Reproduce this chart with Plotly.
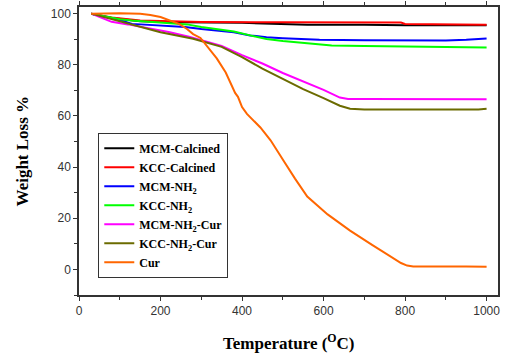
import plotly.graph_objects as go

# Temperature (°C) / weight (%) pairs
mcm_cal_T = [30, 80, 150, 250, 400, 560, 700, 800, 1000]
mcm_cal_W = [100, 98.3, 97.0, 96.6, 96.4, 95.7, 95.7, 95.5, 95.5]

kcc_cal_T = [30, 80, 150, 200, 300, 500, 790, 800, 900, 1000]
kcc_cal_W = [100, 98.5, 97.3, 97.0, 96.7, 96.6, 96.5, 96.0, 95.8, 95.7]

mcm_nh2_T = [30, 100, 130, 200, 260, 300, 380, 420, 460, 500, 590, 700, 900, 950, 1000]
mcm_nh2_W = [100, 97.5, 96.0, 95.3, 94.8, 94.0, 92.7, 91.5, 90.8, 90.4, 89.8, 89.6, 89.5, 89.8, 90.3]

kcc_nh2_T = [30, 100, 130, 200, 265, 300, 380, 420, 460, 500, 560, 620, 700, 860, 1000]
kcc_nh2_W = [100, 97.8, 97.3, 96.5, 95.8, 94.8, 93.0, 91.5, 90.1, 89.3, 88.4, 87.5, 87.4, 87.1, 86.8]

mcm_cur_T = [30, 80, 120, 160, 220, 270, 300, 350, 400, 450, 500, 550, 600, 640, 660, 700, 1000]
mcm_cur_W = [100, 96.8, 95.8, 94.6, 92.8, 91.0, 89.6, 87.4, 83.8, 80.5, 76.8, 73.5, 70.2, 67.2, 66.6, 66.6, 66.5]

kcc_cur_T = [30, 80, 150, 200, 280, 300, 350, 400, 450, 500, 550, 600, 640, 665, 700, 980, 1000]
kcc_cur_W = [100, 97.9, 95.0, 92.7, 90.2, 89.2, 87.0, 83.0, 78.5, 74.5, 70.5, 67.0, 64.0, 62.8, 62.5, 62.5, 62.8]

cur_T = [30, 100, 150, 175, 200, 220, 245, 265, 280, 298, 315, 338, 360, 375, 383, 390, 400, 412,
         430, 445, 470, 485, 500, 530, 560, 610, 665, 720, 765, 790, 805, 820, 950, 1000]
cur_W = [100, 100.2, 100, 99.5, 98.7, 97.5, 96.0, 94.0, 92.0, 90.5, 87.0, 82.5, 77.0, 72.0, 69.0, 67.5, 63.5, 60.8,
         58.0, 55.5, 50.5, 47.0, 43.0, 35.5, 28.5, 21.5, 15.2, 9.5, 4.8, 2.5, 1.5, 1.1, 1.1, 1.0]

series = [
    ("MCM-Calcined", mcm_cal_T, mcm_cal_W, "#000000"),
    ("KCC-Calcined", kcc_cal_T, kcc_cal_W, "#FF0000"),
    ("MCM-NH<sub>2</sub>", mcm_nh2_T, mcm_nh2_W, "#0000FF"),
    ("KCC-NH<sub>2</sub>", kcc_nh2_T, kcc_nh2_W, "#00FF00"),
    ("MCM-NH<sub>2</sub>-Cur", mcm_cur_T, mcm_cur_W, "#FF00FF"),
    ("KCC-NH<sub>2</sub>-Cur", kcc_cur_T, kcc_cur_W, "#6B6B00"),
    ("Cur", cur_T, cur_W, "#FF6600"),
]

fig = go.Figure()
for name, t, w, c in series:
    fig.add_trace(go.Scatter(x=t, y=w, mode="lines", name=name,
                             line=dict(color=c, width=2)))

serif = "Liberation Serif"
sans = "Liberation Sans"

fig.update_layout(
    width=513, height=356,
    margin=dict(l=79, r=15, t=7, b=61),
    paper_bgcolor="white", plot_bgcolor="white",
    showlegend=True,
    legend=dict(
        x=0.046, y=0.563, xanchor="left", yanchor="top",
        bordercolor="#333333", borderwidth=1, bgcolor="white",
        font=dict(family=serif, size=12, color="black", weight="bold"),
        tracegroupgap=0,
    ),
    xaxis=dict(
        range=[0, 1028], tickmode="array", tickvals=[0, 200, 400, 600, 800, 1000],
        ticks="outside", ticklen=4, tickwidth=1, tickcolor="#333333",
        minor=dict(dtick=100, ticks="outside", ticklen=3, tickcolor="#333333"),
        showline=True, linecolor="#333333", linewidth=1.5, mirror="ticks",
        showgrid=False, zeroline=False, automargin=False,
        tickfont=dict(family=sans, size=12, color="#333333"),
    ),
    yaxis=dict(
        range=[-10, 102.6], tickmode="array", tickvals=[0, 20, 40, 60, 80, 100],
        ticks="outside", ticklen=4, tickwidth=1, tickcolor="#333333",
        minor=dict(dtick=10, ticks="outside", ticklen=3, tickcolor="#333333"),
        showline=True, linecolor="#333333", linewidth=1.5, mirror=True,
        showgrid=False, zeroline=False, automargin=False,
        tickfont=dict(family=sans, size=12, color="#333333"),
    ),
    annotations=[
        dict(text="<b>Temperature (<sup>O</sup>C)</b>", xref="paper", yref="paper",
             x=0.5, y=-0.163, xanchor="center", yanchor="middle", showarrow=False,
             font=dict(family=serif, size=17, color="black")),
        dict(text="<b>Weight Loss %</b>", xref="paper", yref="paper",
             x=-0.135, y=0.5, xanchor="center", yanchor="middle", showarrow=False,
             textangle=-90, font=dict(family=serif, size=17, color="black")),
    ],
)

fig.write_html("out.html", config={"displayModeBar": False},
               post_script="document.body.style.margin='0';")
